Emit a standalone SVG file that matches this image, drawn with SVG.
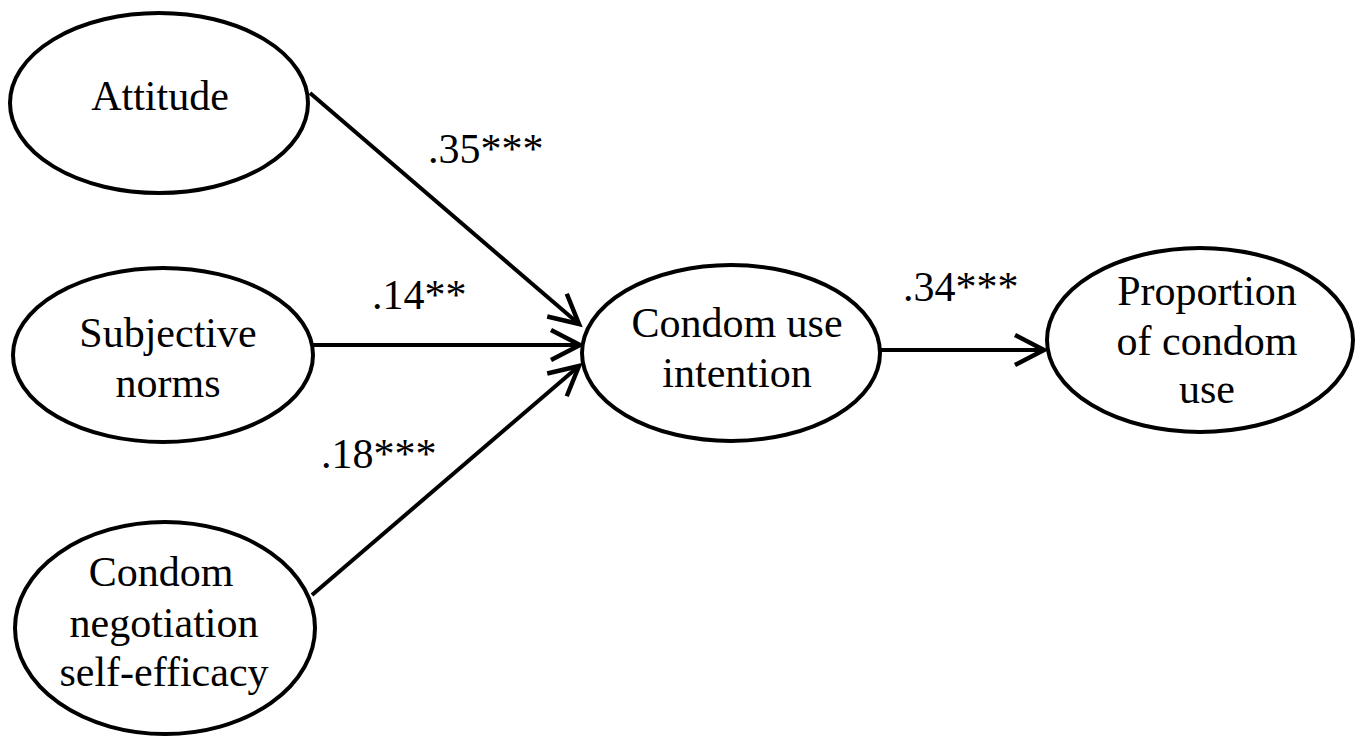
<svg xmlns="http://www.w3.org/2000/svg" width="1358" height="741" viewBox="0 0 1358 741">
<style>
.node ellipse{fill:#fff;stroke:#000;stroke-width:4}
.t{font-family:"Liberation Serif","Times New Roman",serif;font-size:42px;fill:#000;text-anchor:middle}
.lbl{font-family:"Liberation Serif","Times New Roman",serif;font-size:42px;fill:#000}
.edge{stroke:#000;stroke-width:4;fill:none;marker-end:url(#arr)}
</style>
<defs>
<marker id="arr" markerUnits="userSpaceOnUse" markerWidth="40" markerHeight="40" viewBox="-34 -20 40 40" refX="0" refY="0" orient="auto">
<path d="M-29,-15 L0,0 L-29,15" fill="none" stroke="#000" stroke-width="4.5"/>
</marker>
</defs>
<rect width="1358" height="741" fill="#fff"/>
<g id="connectors">
<line class="edge" x1="310" y1="93" x2="579" y2="324"/>
<line class="edge" x1="313" y1="345" x2="580" y2="345"/>
<line class="edge" x1="312" y1="595" x2="579" y2="366"/>
<line class="edge" x1="880" y1="350" x2="1044" y2="350"/>
</g>
<g id="labels">
<text class="lbl" x="428" y="163">.35***</text>
<text class="lbl" x="372" y="309">.14**</text>
<text class="lbl" x="321" y="468">.18***</text>
<text class="lbl" x="903" y="301">.34***</text>
</g>
<g id="attitude" class="node">
<ellipse cx="159" cy="103" rx="149" ry="90"/>
<text class="t" x="160" y="110">Attitude</text>
</g>
<g id="subjective-norms" class="node">
<ellipse cx="163" cy="355" rx="150" ry="87"/>
<text class="t" x="168" y="347">Subjective</text>
<text class="t" x="168" y="397">norms</text>
</g>
<g id="negotiation" class="node">
<ellipse cx="165" cy="628" rx="150" ry="106"/>
<text class="t" x="161" y="586">Condom</text>
<text class="t" x="164" y="637">negotiation</text>
<text class="t" x="164" y="686">self-efficacy</text>
</g>
<g id="intention" class="node">
<ellipse cx="731" cy="353" rx="149" ry="88"/>
<text class="t" x="737" y="337">Condom use</text>
<text class="t" x="737" y="387">intention</text>
</g>
<g id="proportion" class="node">
<ellipse cx="1200" cy="340" rx="153" ry="92"/>
<text class="t" x="1207" y="305">Proportion</text>
<text class="t" x="1207" y="355">of condom</text>
<text class="t" x="1207" y="403">use</text>
</g>
</svg>
